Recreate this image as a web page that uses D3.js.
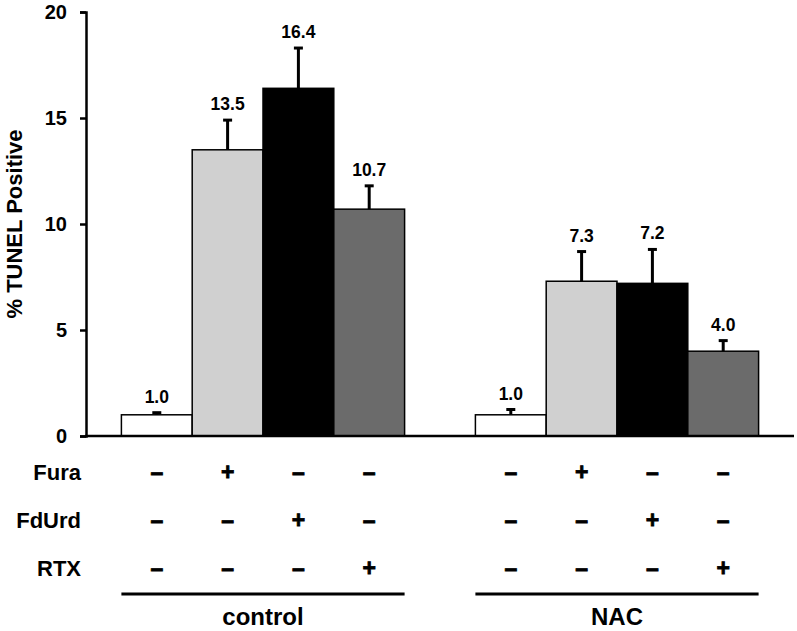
<!DOCTYPE html>
<html>
<head>
<meta charset="utf-8">
<script src="https://cdn.jsdelivr.net/npm/d3@7"></script>
<style>
  body { margin: 0; background: white; }
  text { font-family: "Liberation Sans", Arial, sans-serif; font-weight: bold; }
</style>
</head>
<body>
<div id="chart"></div>
<script>
let groups = ["control", "NAC"];
let treatments = ["none", "Fura", "FdUrd", "RTX"];
let control_vals = [1.0, 13.5, 16.4, 10.7];
let control_err = [0.1, 1.4, 1.9, 1.1];
let nac_vals = [1.0, 7.3, 7.2, 4.0];
let nac_err = [0.25, 1.4, 1.6, 0.5];
let value_labels = ["1.0", "13.5", "16.4", "10.7", "1.0", "7.3", "7.2", "4.0"];
let y_ticks = [0, 5, 10, 15, 20];
let row_names = ["Fura", "FdUrd", "RTX"];

let color_map = {
    "none": "#ffffff",
    "Fura": "#d0d0d0",
    "FdUrd": "#000000",
    "RTX": "#6b6b6b"
};

let chart_width = 797;
let chart_height = 631;

let bar_data = [];
let k = 0;
for (let g of groups) {
    let vals = g == "control" ? control_vals : nac_vals;
    let errs = g == "control" ? control_err : nac_err;
    treatments.forEach(function(t, i) {
        bar_data.push({"group": g, "treat": t, "value": vals[i], "err": errs[i], "label": value_labels[k]});
        k++;
    });
}

let svg = d3.select("#chart")
    .append("svg")
    .attr("width", chart_width)
    .attr("height", chart_height);

let x0 = d3.scaleBand()
    .domain(groups)
    .range([86, 794])
    .paddingInner(0.2)
    .paddingOuter(0.1);

let x1 = d3.scaleBand()
    .domain(treatments)
    .range([0, x0.bandwidth()])
    .padding(0);

let yScale = d3.scaleLinear()
    .domain([0, 20])
    .range([436, 12]);

function bar_x(d) { return x0(d.group) + x1(d.treat); }
function bar_cx(d) { return bar_x(d) + x1.bandwidth() / 2; }

// error bars (drawn first so bar covers the lower part)
let err = svg.append("g");
err.selectAll("line.stem")
    .data(bar_data)
    .enter()
    .append("line")
    .attr("x1", bar_cx)
    .attr("x2", bar_cx)
    .attr("y1", function(d) { return yScale(d.value); })
    .attr("y2", function(d) { return yScale(d.value + d.err); })
    .attr("stroke", "black")
    .attr("stroke-width", 3);

err.selectAll("line.cap")
    .data(bar_data)
    .enter()
    .append("line")
    .attr("x1", function(d) { return bar_cx(d) - 4.5; })
    .attr("x2", function(d) { return bar_cx(d) + 4.5; })
    .attr("y1", function(d) { return yScale(d.value + d.err); })
    .attr("y2", function(d) { return yScale(d.value + d.err); })
    .attr("stroke", "black")
    .attr("stroke-width", 3);

svg.append("g").selectAll("rect")
    .data(bar_data)
    .enter()
    .append("rect")
    .attr("x", bar_x)
    .attr("y", function(d) { return yScale(d.value); })
    .attr("width", x1.bandwidth())
    .attr("height", function(d) { return yScale(0) - yScale(d.value); })
    .attr("fill", function(d) { return color_map[d.treat]; })
    .attr("stroke", "black")
    .attr("stroke-width", 1.5);

svg.append("g").selectAll("text")
    .data(bar_data)
    .enter()
    .append("text")
    .attr("x", bar_cx)
    .attr("y", function(d) { return yScale(d.value + d.err) - 10; })
    .attr("text-anchor", "middle")
    .style("font-size", "17.5px")
    .text(function(d) { return d.label; });

// axes
let y_axis = svg.append("g")
    .attr("transform", "translate(86,0)")
    .call(d3.axisLeft(yScale).tickValues(y_ticks).tickSize(6).tickPadding(13));
y_axis.select(".domain").attr("stroke-width", 2.5);
y_axis.selectAll(".tick line").attr("stroke-width", 2.5);
y_axis.selectAll(".tick text")
    .style("font-size", "20px")
    .style("font-family", "Liberation Sans, Arial, sans-serif")
    .style("font-weight", "bold")
    .attr("fill", "black");

svg.append("line")
    .attr("x1", 85)
    .attr("x2", 794)
    .attr("y1", yScale(0))
    .attr("y2", yScale(0))
    .attr("stroke", "black")
    .attr("stroke-width", 2.5);

svg.append("text")
    .attr("text-anchor", "middle")
    .attr("transform", "translate(22," + ((yScale(0) + yScale(20)) / 2) + ") rotate(-90)")
    .style("font-size", "22px")
    .text("% TUNEL Positive");

// treatment table
let row_y = d3.scalePoint()
    .domain(row_names)
    .range([472, 568]);

let table = svg.append("g");
table.selectAll("text.rowname")
    .data(row_names)
    .enter()
    .append("text")
    .attr("x", 81)
    .attr("y", function(d) { return row_y(d) + 8; })
    .attr("text-anchor", "end")
    .style("font-size", "22px")
    .text(function(d) { return d; });

let cell_data = [];
for (let r of row_names) {
    for (let d of bar_data) {
        cell_data.push({"row": r, "bar": d, "plus": r == d.treat});
    }
}

table.selectAll("text.cell")
    .data(cell_data)
    .enter()
    .append("text")
    .attr("x", function(d) { return bar_cx(d.bar); })
    .attr("y", function(d) { return row_y(d.row) + 8; })
    .attr("text-anchor", "middle")
    .style("font-size", "23px")
    .attr("stroke", "black")
    .attr("stroke-width", 0.8)
    .text(function(d) { return d.plus ? "+" : "\u2013"; });

// group brackets
svg.append("g").selectAll("line")
    .data(groups)
    .enter()
    .append("line")
    .attr("x1", function(d) { return x0(d); })
    .attr("x2", function(d) { return x0(d) + x0.bandwidth(); })
    .attr("y1", 594)
    .attr("y2", 594)
    .attr("stroke", "black")
    .attr("stroke-width", 3);

svg.append("g").selectAll("text")
    .data(groups)
    .enter()
    .append("text")
    .attr("x", function(d) { return x0(d) + x0.bandwidth() / 2; })
    .attr("y", 625)
    .attr("text-anchor", "middle")
    .style("font-size", "24px")
    .text(function(d) { return d; });
</script>
</body>
</html>
